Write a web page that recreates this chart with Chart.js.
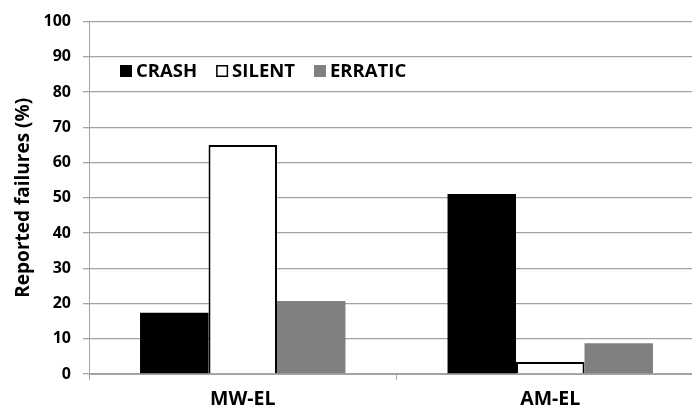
<!DOCTYPE html>
<html>
<head>
<meta charset="utf-8">
<script src="https://cdn.jsdelivr.net/npm/chart.js@4"></script>
<style>
  html, body { margin: 0; padding: 0; background: #fff; overflow: hidden; }
  #wrap { position: relative; width: 704px; height: 412px; }
</style>
</head>
<body>
<div id="wrap"><canvas id="chart"></canvas></div>
<script>
const categories = ['MW-EL', 'AM-EL'];
const crash = [17.4, 51.1];
const silent = [65, 3.4];
const erratic = [20.7, 8.7];
const yTicks = [0, 10, 20, 30, 40, 50, 60, 70, 80, 90, 100];

const FONT = '"Open Sans", "Noto Sans", sans-serif';
const GRID = '#a3a3a3';

// legend sits inside the plot, in one row, like the original
const insideLegend = {
  id: 'insideLegend',
  afterDraw(chart) {
    const c = chart.ctx;
    const area = chart.chartArea;
    let x = area.left + 31;
    const y = 71;
    c.save();
    c.font = 'bold 18.5px ' + FONT;
    c.textBaseline = 'middle';
    c.textAlign = 'left';
    chart.data.datasets.forEach(ds => {
      c.fillStyle = ds.backgroundColor;
      c.fillRect(x, y - 6, 12, 12);
      if (ds.borderWidth) {
        c.strokeStyle = ds.borderColor;
        c.lineWidth = 1.5;
        c.strokeRect(x + 0.75, y - 5.25, 10.5, 10.5);
      }
      c.fillStyle = '#000';
      c.fillText(ds.label, x + 16, y + 1);
      x += 16 + c.measureText(ds.label).width + 19;
    });
    c.restore();
  }
};

const ctx = document.getElementById('chart').getContext('2d');
new Chart(ctx, {
  type: 'bar',
  data: {
    labels: categories,
    datasets: [
      { label: 'CRASH', data: crash, backgroundColor: '#000', borderWidth: 0 },
      { label: 'SILENT', data: silent, backgroundColor: '#fff', borderColor: '#000', borderWidth: 2 },
      { label: 'ERRATIC', data: erratic, backgroundColor: '#808080', borderWidth: 0 }
    ]
  },
  options: {
    responsive: true,
    maintainAspectRatio: false,
    animation: false,
    layout: { padding: { top: 15, right: 0, left: 0, bottom: 0 } },
    datasets: {
      bar: { categoryPercentage: 0.668, barPercentage: 1.0 }
    },
    plugins: {
      tooltip: { enabled: false },
      legend: { display: false }
    },
    scales: {
      x: {
        afterFit: s => { s.height = 38; },
        grid: { display: true, drawOnChartArea: false, color: GRID, tickLength: 6, offset: true },
        border: { color: GRID },
        ticks: {
          color: '#000',
          padding: 8,
          font: { family: FONT, size: 19.5, weight: 'bold' }
        }
      },
      y: {
        min: 0,
        max: 100,
        afterFit: s => { s.width = 89; },
        afterBuildTicks: s => { s.ticks = yTicks.map(v => ({ value: v })); },
        grid: { color: GRID, lineWidth: 1.3, tickLength: 6 },
        border: { color: GRID },
        ticks: {
          color: '#000',
          padding: 12,
          font: { family: FONT, size: 16, weight: 'bold' }
        },
        title: {
          display: true,
          text: 'Reported failures (%)',
          color: '#000',
          padding: { top: 12, bottom: 8 },
          font: { family: FONT, size: 19, weight: 'bold' }
        }
      }
    }
  },
  plugins: [insideLegend]
});
</script>
</body>
</html>
